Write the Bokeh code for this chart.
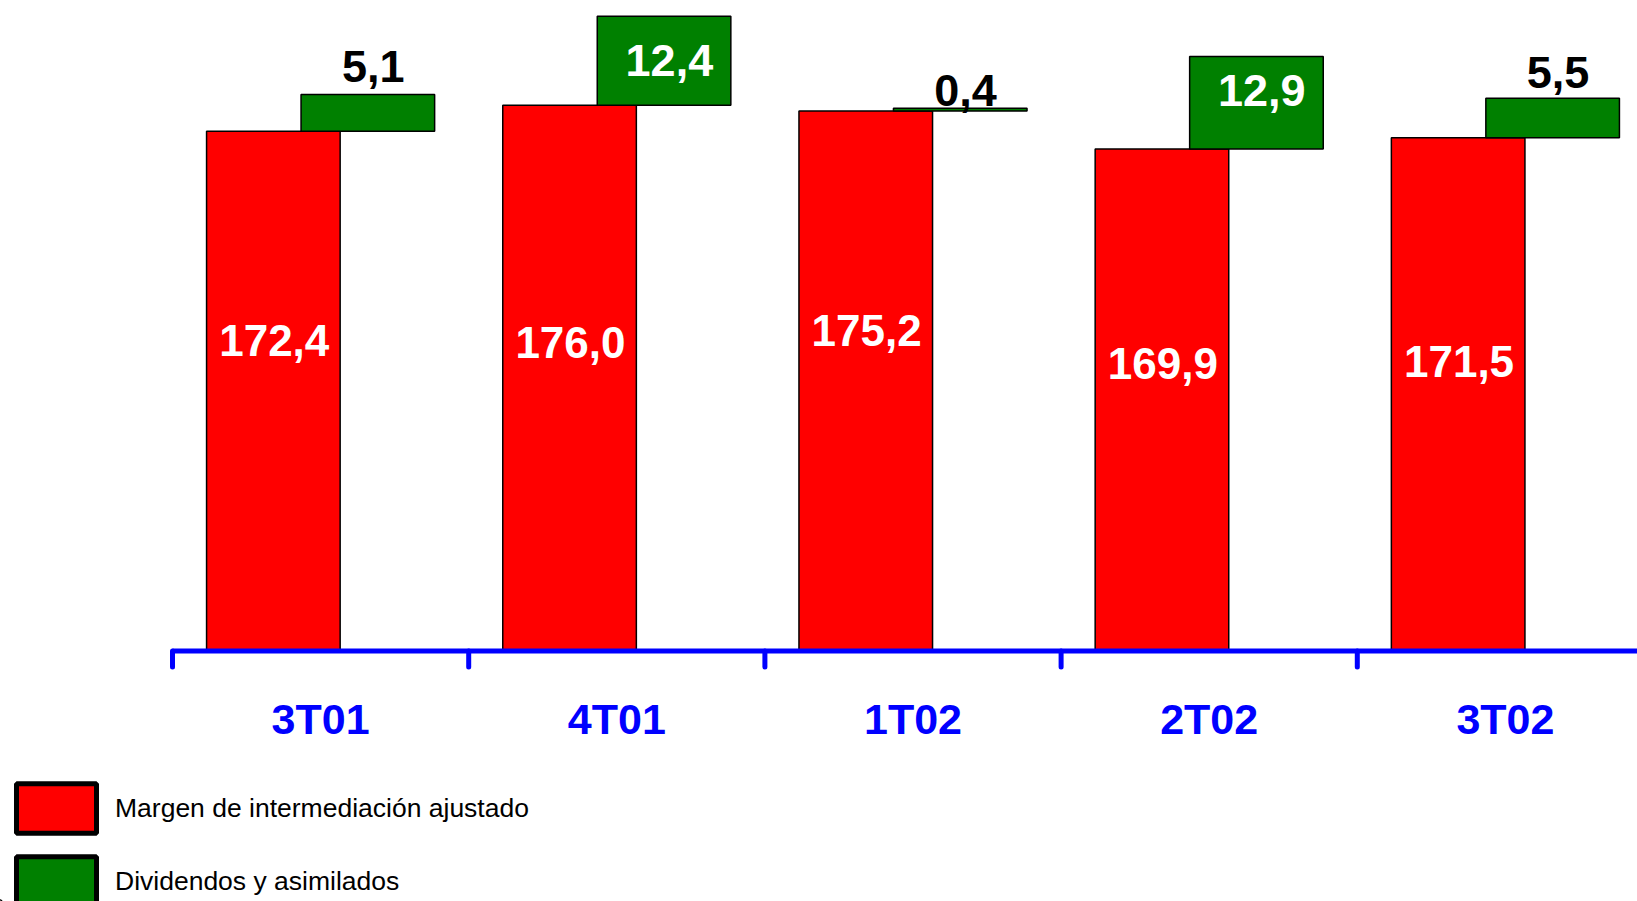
from bokeh.plotting import figure
from bokeh.models import Range1d, Legend, LegendItem, ColumnDataSource
from bokeh.core.properties import value
from bokeh.embed import file_html
from bokeh.resources import INLINE

# ---- data ----
categories = ["3T01", "4T01", "1T02", "2T02", "3T02"]
margen = [172.4, 176.0, 175.2, 169.9, 171.5]
dividendos = [5.1, 12.4, 0.4, 12.9, 5.5]
series_names = ["Margen de intermediación ajustado", "Dividendos y asimilados"]

# ---- layout / style ----
W, H = 1637, 901
BASE = 100.0
FONT_NAME = "Liberation Sans"
FONT = value(FONT_NAME)
RED, GREEN, BLUE = "#FF0000", "#008000", "#0000FF"
BAR_W = 0.451
RED_OFF = 0.3405
GREEN_OFF = 0.6595
# label placement tweaks (data units relative to bar tops)
RED_LABEL_DY = [-29.2, -33.0, -30.6, -29.9, -31.2]
GREEN_LABEL_DY = [3.9, -6.1, 2.5, -4.7, 3.6]


def fmt(v):
    return f"{v:.1f}".replace(".", ",")


n = len(categories)
idx = list(range(n))
red_src = ColumnDataSource(dict(
    x=[i + RED_OFF for i in idx], top=margen, bottom=[BASE] * n,
    lab=[fmt(v) for v in margen],
    lx=[i + RED_OFF + 0.003 for i in idx],
    ly=[v + d for v, d in zip(margen, RED_LABEL_DY)],
))
green_top = [m + d for m, d in zip(margen, dividendos)]
big = [d >= 10 for d in dividendos]
green_src = ColumnDataSource(dict(
    x=[i + GREEN_OFF for i in idx], top=green_top, bottom=margen,
    lab=[fmt(v) for v in dividendos],
    lx=[i + GREEN_OFF + 0.018 for i in idx],
    ly=[t + d for t, d in zip(green_top, GREEN_LABEL_DY)],
    lc=["white" if b else "black" for b in big],
))

p = figure(width=W, height=H, x_range=Range1d(-0.5807, 4.946), y_range=Range1d(65.11, 190.6),
           output_backend="svg", toolbar_location=None, min_border=0,
           x_axis_type=None, y_axis_type=None)
p.grid.visible = False
p.outline_line_color = None
p.background_fill_color = "white"
p.border_fill_color = "white"

p.vbar(x="x", top="top", bottom="bottom", width=BAR_W, source=red_src,
       fill_color=RED, line_color="black", line_width=1.5)
p.vbar(x="x", top="top", bottom="bottom", width=BAR_W, source=green_src,
       fill_color=GREEN, line_color="black", line_width=1.5)

# axis line & ticks
p.segment(x0=[0], y0=[BASE], x1=[n + 0.5], y1=[BASE], line_color=BLUE, line_width=5)
p.segment(x0=idx, y0=[BASE] * n, x1=idx, y1=[BASE - 2.23] * n, line_color=BLUE,
          line_width=5, line_cap="round")

# category labels
p.text(x=[i + 0.5 for i in idx], y=[90.46] * n, text=categories, text_font=FONT,
       text_font_style="bold", text_font_size="43px", text_color=BLUE,
       text_align="center", text_baseline="middle")

# value labels
p.text(x="lx", y="ly", text="lab", source=red_src, text_font=FONT, text_font_style="bold",
       text_font_size="44px", text_color="white", text_align="center", text_baseline="middle")
p.text(x="lx", y="ly", text="lab", source=green_src, text_font=FONT, text_font_style="bold",
       text_font_size="45px", text_color="lc", text_align="center", text_baseline="middle")

# legend (off-screen proxy renderers with thick borders)
lr = p.vbar(x=[-5], top=[50], bottom=[40], width=0.1, fill_color=RED, line_color="black", line_width=5)
lg = p.vbar(x=[-5], top=[50], bottom=[40], width=0.1, fill_color=GREEN, line_color="black", line_width=5)
legend = Legend(items=[LegendItem(label=series_names[0], renderers=[lr]),
                       LegendItem(label=series_names[1], renderers=[lg])],
                location=(6, -11), orientation="vertical",
                glyph_width=100, glyph_height=62, spacing=11, label_standoff=9,
                padding=0, margin=0, border_line_color=None, background_fill_alpha=0,
                label_text_font=FONT_NAME, label_text_font_size="26.5px", label_text_color="black")
p.add_layout(legend)

open("out.html", "w").write(file_html(p, INLINE))
